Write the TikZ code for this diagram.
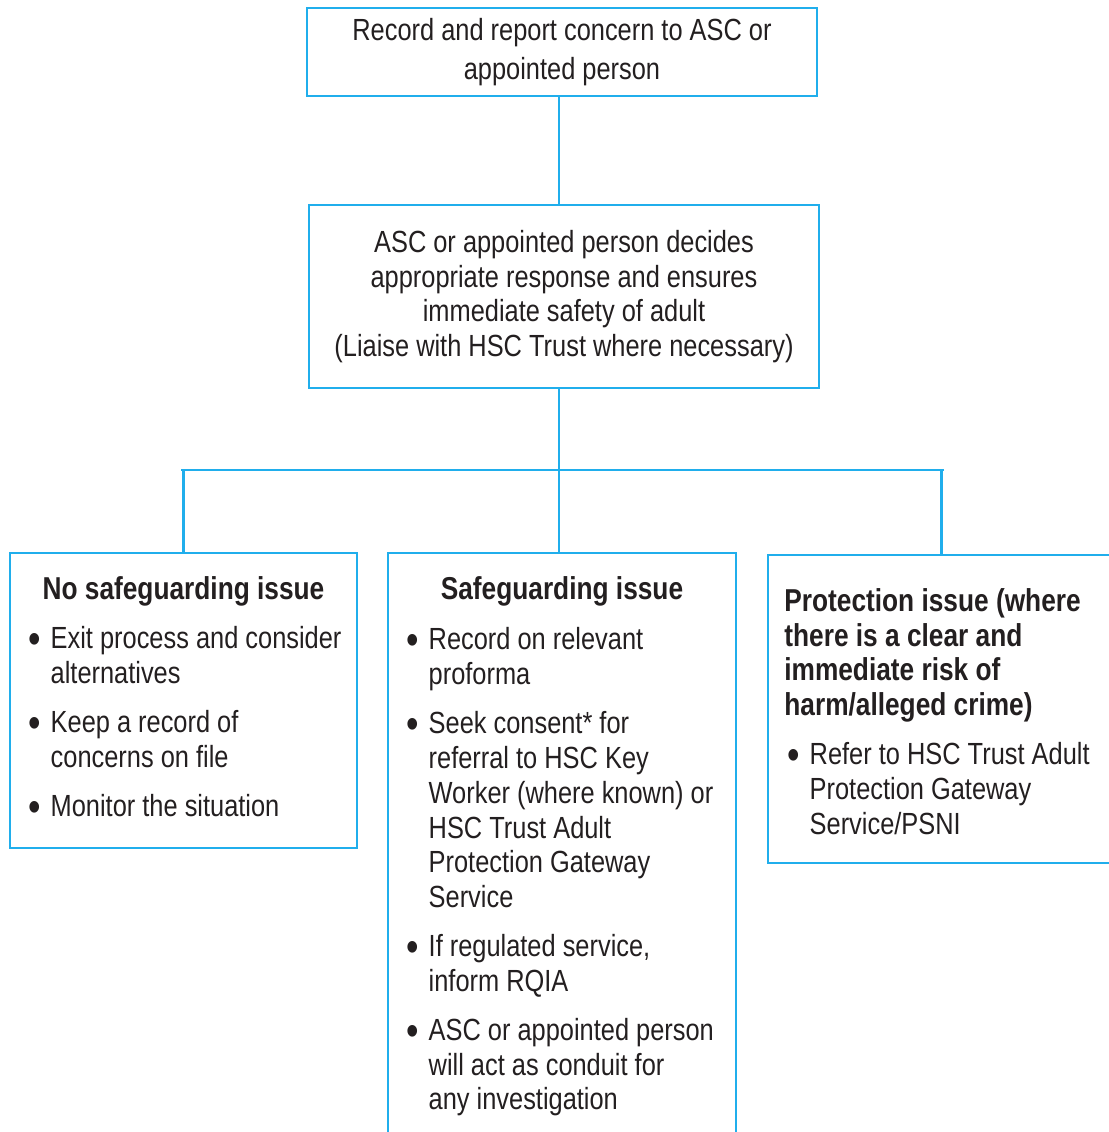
\documentclass[tikz,border=0pt]{standalone}
\usepackage{fontspec}
\setmainfont{Liberation Sans}[FakeStretch=0.83]
\usetikzlibrary{positioning}
\definecolor{ascblue}{RGB}{32,174,236}
\definecolor{inkgrey}{RGB}{35,31,32}
\tikzstyle{box}=[draw=ascblue,line width=0.7pt,inner sep=0pt]
\tikzstyle{link}=[draw=ascblue,line width=0.7pt]
\tikzstyle{boxtext}=[text=inkgrey,font=\fontsize{8.7}{9.9}\selectfont,align=center]
\tikzstyle{hdgtext}=[text=inkgrey,font=\fontsize{9.0}{9.9}\selectfont\bfseries,inner sep=0pt]
\tikzstyle{listtext}=[text=inkgrey,font=\fontsize{8.7}{9.9}\selectfont,inner sep=0pt,text width=3.3cm,align=flush left,anchor=north west,
  execute at begin node={\setlength{\parskip}{4pt}\setlength{\parindent}{0pt}\leftskip=0.22cm\relax}]
\newcommand{\itm}{\noindent\llap{\makebox[0.22cm][l]{\raisebox{-0.3ex}{\scalebox{1.4}{\textbullet}}}}}

\begin{document}
\begin{tikzpicture}[x=0.01cm,y=-0.01cm]
  \useasboundingbox (0,0) rectangle (1109,1132);
  \clip (0,0) rectangle (1109,1132);

  % top of the chart
  \node[box,boxtext,minimum width=5.1cm,minimum height=0.88cm,font=\fontsize{8.7}{11}\selectfont] (record) at (562,52)
       {Record and report concern to ASC or\\appointed person};
  \node[box,boxtext,minimum width=5.1cm,minimum height=1.83cm] (decide) at (564,296.5)
       {ASC or appointed person decides\\appropriate response and ensures\\immediate safety of adult\\(Liaise with HSC Trust where necessary)};

  % three outcomes
  \node[box,minimum width=3.47cm,minimum height=2.95cm] (nosafe) at (183.5,700.5) {};
  \node[box,minimum width=3.48cm,minimum height=5.97cm] (safe) at (562,851.5) {};
  \node[box,minimum width=3.47cm,minimum height=3.08cm] (prot) at (941.5,709) {};

  \node[hdgtext,below=0.24cm of nosafe.north] (nosafehdg) {No safeguarding issue};
  \node[hdgtext,below=0.24cm of safe.north] (safehdg) {Safeguarding issue};
  \node[hdgtext,text width=3.2cm,align=flush left,below right=0.34cm and 0.17cm of prot.north west] (prothdg)
       {Protection issue (where\\there is a clear and\\immediate risk of\\harm/alleged crime)};

  \node[listtext] (nosafelist) at (28,626)
       {\itm Exit process and consider\newline alternatives\par
        \itm Keep a record of\newline concerns on file\par
        \itm Monitor the situation};

  \node[listtext] (safelist) at (406,627)
       {\itm Record on relevant\newline proforma\par
        \itm Seek consent* for\newline referral to HSC Key\newline Worker (where known) or\newline HSC Trust Adult\newline Protection Gateway\newline Service\par
        \itm If regulated service,\newline inform RQIA\par
        \itm ASC or appointed person\newline will act as conduit for\newline any investigation};

  \node[listtext] (protlist) at (787,742)
       {\itm Refer to HSC Trust Adult\newline Protection Gateway\newline Service/PSNI};

  % connectors
  \coordinate (bar) at (559,470);
  \path[link] (record.south -| bar) -- (decide.north -| bar);
  \path[link] (decide.south -| bar) -- (bar);
  \path[link] ([xshift=-0.02cm]nosafe.north |- bar) -- ([xshift=0.02cm]prot.north |- bar);
  \foreach \dest in {nosafe, prot}
         \path[link] (\dest.north |- bar) -- (\dest.north);
  \path[link] (bar) -- (bar |- safe.north);
\end{tikzpicture}
\end{document}
